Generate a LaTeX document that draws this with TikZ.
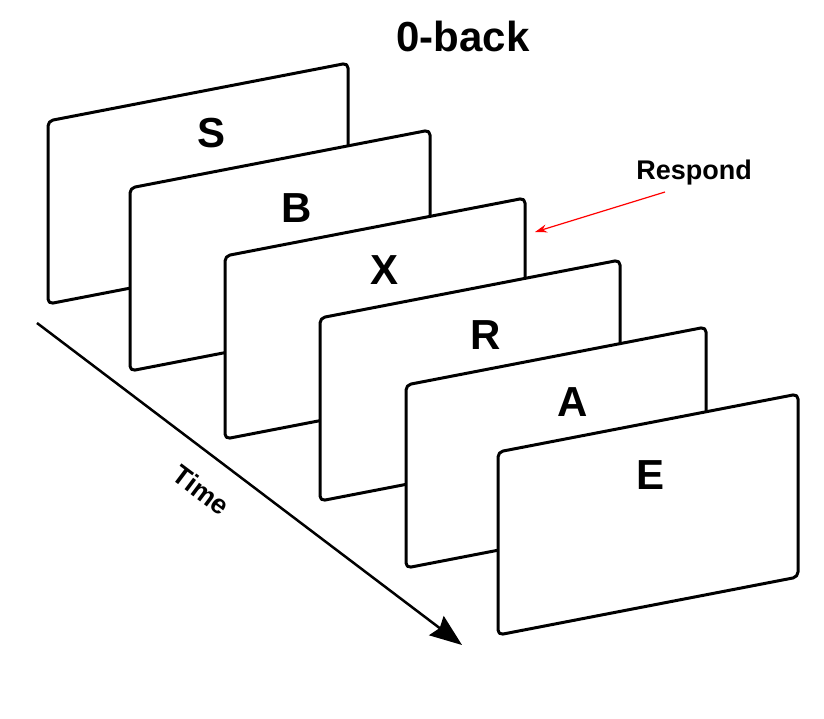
\documentclass[tikz,border=0pt]{standalone}
\usepackage{fontspec}
\setmainfont{Liberation Sans}
\usetikzlibrary{arrows.meta}
\begin{document}
\begin{tikzpicture}[x=1pt,y=-1pt,
  card/.style={draw=black,fill=white,line width=3pt,rounded corners=5pt,line join=round},
  letter/.style={font=\bfseries\fontsize{42}{44}\selectfont},
  lbl/.style={font=\bfseries\fontsize{27}{29}\selectfont}]
\useasboundingbox (0,0) rectangle (824,718);
\foreach \x/\y/\lx/\ly/\l/\n in {48/121/212/133/S/s,130/188/297/208/B/b,225/256/385/270/X/x,320/318/486/335/R/r,406/385/573/402/A/a,498/452/650/475/E/e}{
  \draw[card] (\x,\y) -- ++(300,-58) -- ++(0,183) -- ++(-300,58) -- cycle;
  \node[letter] (\n) at (\lx,\ly) {\l};
}
\node[font=\bfseries\fontsize{42}{44}\selectfont] (title) at (463,36) {0-back};
\node[lbl] (resp) at (694,173) {Respond};
\coordinate (rt) at (535,232);
\draw[red,line width=1.2pt,-{Stealth[length=12pt,width=8pt]}] (665,192) -- (rt);
\coordinate (t0) at (37,323);
\coordinate (t1) at (462,645);
\draw[line width=2.5pt,-{Stealth[length=32pt,width=24pt,inset=4pt]}] (t0) -- (t1);
\node[lbl,rotate=-37] (time) at (201,490) {Time};
\end{tikzpicture}
\end{document}
